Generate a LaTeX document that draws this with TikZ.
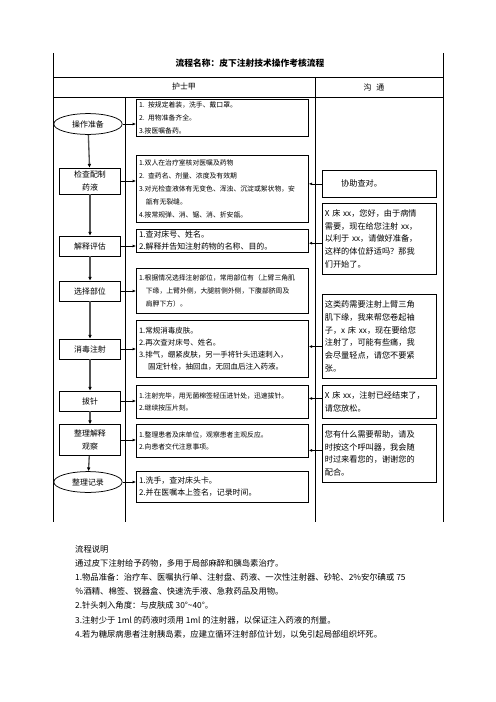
\documentclass[tikz,border=0pt]{standalone}
\usepackage{fontspec}
\setmainfont{Noto Sans CJK SC}
\XeTeXlinebreaklocale "zh"
\XeTeXlinebreakskip=0pt plus 1pt
\usepackage{tikz}
\usetikzlibrary{
    arrows.meta,
    shapes.geometric,
    calc,
    positioning
}
\tikzset{
    tableline/.style={line width=0.7pt},
    stepbox/.style={draw, line width=0.9pt, minimum width=73pt, minimum height=24pt,
        align=center, inner sep=1pt, font=\fontsize{9.5}{15}\selectfont},
    stepoval/.style={draw, ellipse, line width=0.9pt, minimum width=82pt, minimum height=25pt,
        inner sep=1pt, font=\fontsize{9.5}{12}\selectfont},
    midbox/.style={draw, line width=0.9pt, anchor=north west, minimum width=206.4pt,
        text width=200pt, align=left, inner sep=3pt, font=\fontsize{9.5}{14.5}\selectfont},
    tightbox/.style={midbox, font=\fontsize{8.2}{15.5}\selectfont},
    talkbox/.style={draw, line width=0.9pt, anchor=north west, minimum width=136.8pt,
        text width=131pt, align=left, inner sep=3pt, font=\fontsize{9.8}{15.2}\selectfont},
    flowarrow/.style={draw=gray!65!black, line width=1.6pt, -{Latex[black,length=4.5pt,width=4.5pt]}},
    linkarrow/.style={line width=0.8pt, -{Latex[length=4pt,width=3.5pt]}}
}

\begin{document}
\begin{tikzpicture}[x=1.2pt, y=-1.2pt]
\useasboundingbox (0,0) rectangle (496,702);

% table frame
\draw[tableline] (53,53) -- (53,522);
\draw[tableline] (125,97) -- (125,522);
\draw[tableline] (315,77) -- (315,522);
\draw[tableline] (443,53) -- (443,522);
\draw[tableline] (53,77) -- (443,77);
\draw[tableline] (53,97) -- (443,97);

\node[font=\bfseries\fontsize{10.5}{12}\selectfont] (title) at (250,63) {流程名称：皮下注射技术操作考核流程};
\node[font=\fontsize{9.5}{12}\selectfont] (nurse) at (184,87) {护士甲};
\node[font=\fontsize{9.5}{12}\selectfont] (talk) at (374,87) {沟\hspace{0.6em}通};

% steps
\node[stepoval] (prep) at (88,124) {操作准备};
\node[stepbox, minimum height=31pt] (check) at (90,181) {检查配制\\药液};
\node[stepbox] (explain) at (90,246) {解释评估};
\node[stepbox] (site) at (90,291) {选择部位};
\node[stepbox] (inject) at (90,349) {消毒注射};
\node[stepbox] (pull) at (90,401) {拔针};
\node[stepbox, minimum height=37pt] (tidy) at (90,440) {整理解释\\观察};
\node[stepoval] (record) at (88,482) {整理记录};

% details
\node[tightbox, minimum height=44.4pt] (b1) at (136,99) {1. 按规定着装，洗手、戴口罩。\\2. 用物准备齐全。\\3.按医嘱备药。};
\node[tightbox, minimum height=80.4pt] (b2) at (136,155) {1.双人在治疗室核对医嘱及药物\\2. 查药名、剂量、浓度及有效期\\3.对光检查液体有无变色、浑浊、沉淀或絮状物，安\\\hspace*{1em}瓿有无裂缝。\\4.按常规弹、消、锯、消、折安瓿。};
\node[midbox, minimum height=27.6pt, inner ysep=1.5pt] (b3) at (136,229) {1.查对床号、姓名。\\2.解释并告知注射药物的名称、目的。};
\node[tightbox, minimum height=54pt] (b4) at (136,268) {1.根据情况选择注射部位，常用部位有（上臂三角肌\\\hspace*{1em}下缘，上臂外侧，大腿前侧外侧，下腹部脐周及\\\hspace*{1em}肩胛下方）。};
\node[midbox, minimum height=68.4pt, font=\fontsize{9}{14.5}\selectfont] (b5) at (136,320) {1.常规消毒皮肤。\\2.再次查对床号、姓名。\\3.排气，绷紧皮肤，另一手将针头迅速刺入，\\\hspace*{1.2em}固定针栓，抽回血，无回血后注入药液。};
\node[tightbox, minimum height=39.6pt] (b6) at (136,385) {1.注射完毕，用无菌棉签轻压进针处，迅速拔针。\\2.继续按压片刻。};
\node[tightbox, minimum height=39.6pt] (b7) at (136,424) {1.整理患者及床单位，观察患者主观反应。\\2.向患者交代注意事项。};
\node[midbox, minimum height=37.2pt] (b8) at (136,471) {1.洗手，查对床头卡。\\2.并在医嘱本上签名，记录时间。};

% communication
\node[talkbox, minimum height=32.4pt] (r1) at (322,170) {\hspace*{2em}协助查对。};
\node[talkbox, minimum height=85.2pt] (r2) at (322,203) {X 床 xx，您好，由于病情\\需要，现在给您注射 xx，\\以利于 xx，请做好准备，\\这样的体位舒适吗？那我\\们开始了。};
\node[talkbox, minimum height=100.8pt] (r3) at (322,294) {这类药需要注射上臂三角\\肌下缘，我来帮您卷起袖\\子，x 床 xx，现在要给您\\注射了，可能有些痛，我\\会尽量轻点，请您不要紧\\张。};
\node[talkbox, minimum height=39.6pt] (r4) at (322,385) {X 床 xx，注射已经结束了，\\请您放松。};
\node[talkbox, minimum height=69.6pt] (r5) at (322,424) {您有什么需要帮助，请及\\时按这个呼叫器，我会随\\时过来看您的，谢谢您的\\配合。};

% flow
\draw[flowarrow] (prep) -- (check);
\draw[flowarrow] (check) -- (explain);
\draw[flowarrow] (explain) -- (site);
\draw[flowarrow] (site) -- (inject);
\draw[flowarrow] (inject) -- (pull);
\draw[flowarrow] (pull) -- (tidy);
\draw[flowarrow] (tidy) -- (record);

\draw[linkarrow] (prep.east) -- (prep.east -| b1.west);
\draw[linkarrow] (check.east) -- (check.east -| b2.west);
\draw[linkarrow] (explain.east) -- (explain.east -| b3.west);
\draw[linkarrow] (site.east) -- (site.east -| b4.west);
\draw[linkarrow] (inject.east) -- (inject.east -| b5.west);
\draw[linkarrow] (pull.east) -- (pull.east -| b6.west);
\draw[linkarrow] (tidy.east) -- (tidy.east -| b7.west);
\draw[linkarrow] (record.east) -- (record.east -| b8.west);

\draw[linkarrow] (r1.west) -- (r1.west -| b2.east);
\draw[linkarrow] ($(r2.north west)!0.56!(r2.south west)$) coordinate (r2a) -- (r2a -| b3.east);
\draw[linkarrow] ($(r3.north west)!0.62!(r3.south west)$) coordinate (r3a) -- (r3a -| b5.east);
\draw[linkarrow] ($(r4.north west)!0.4!(r4.south west)$) coordinate (r4a) -- (r4a -| b6.east);
\draw[linkarrow] ($(r5.north west)!0.45!(r5.south west)$) coordinate (r5a) -- (r5a -| b7.east);

% notes
\node[anchor=north west, align=left, inner sep=0pt, font=\fontsize{10}{17}\selectfont] (notes) at (75,545) {流程说明\\通过皮下注射给予药物，多用于局部麻醉和胰岛素治疗。\\1.物品准备：治疗车、医嘱执行单、注射盘、药液、一次性注射器、砂轮、2\%安尔碘或 75\\％酒精、棉签、锐器盒、快速洗手液、急救药品及用物。\\2.针头刺入角度：与皮肤成 30°\textasciitilde 40°。\\3.注射少于 1ml 的药液时须用 1ml 的注射器，以保证注入药液的剂量。\\4.若为糖尿病患者注射胰岛素，应建立循环注射部位计划，以免引起局部组织坏死。};
\end{tikzpicture}
\end{document}
